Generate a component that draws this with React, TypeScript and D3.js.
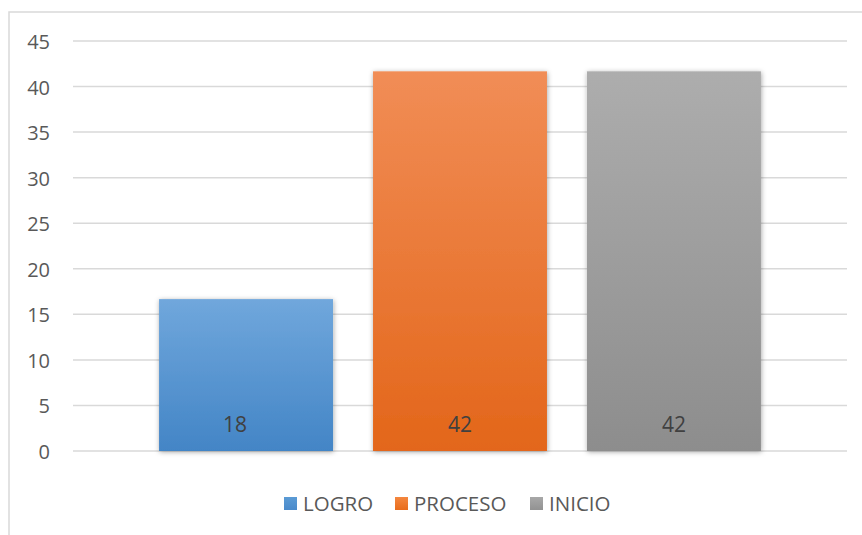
import React from "react";
import * as d3 from "d3";

const series = ["LOGRO", "PROCESO", "INICIO"];
const values = [16.67, 41.67, 41.67];
const labels = ["18", "42", "42"];
const yTicks = [0, 5, 10, 15, 20, 25, 30, 35, 40, 45];

const W = 862;
const H = 535;
const plot = { left: 73, right: 847, top: 41, bottom: 451 };
const gradients = [
  ["#70a7dc", "#4385c6"],
  ["#f18d56", "#e3661a"],
  ["#adadad", "#8d8d8d"],
];
const legendSwatch = [
  ["#5b9bd5", "#4a8acb"],
  ["#f4873f", "#e86c1c"],
  ["#a8a8a8", "#929292"],
];
const labelDx = [-11, 0, 0];
const legendX = [284, 395, 530];
const font = "'Open Sans', 'Noto Sans', sans-serif";

export default function App() {
  const y = d3.scaleLinear().domain([0, 45]).range([plot.bottom, plot.top]);
  const outer = d3.scaleBand().domain(["c"]).range([plot.left, plot.right]).paddingOuter(0.143).paddingInner(0);
  const x = d3
    .scaleBand()
    .domain(series)
    .range([outer("c")!, outer("c")! + outer.bandwidth()])
    .paddingInner(0.187)
    .paddingOuter(0);

  return (
    <svg width={W} height={H} style={{ position: "absolute", left: 0, top: 0, background: "#fff" }}>
      <defs>
        {gradients.map((g, i) => (
          <linearGradient key={i} id={`g${i}`} x1="0" y1="0" x2="0" y2="1">
            <stop offset="0%" stopColor={g[0]} />
            <stop offset="100%" stopColor={g[1]} />
          </linearGradient>
        ))}
        {legendSwatch.map((g, i) => (
          <linearGradient key={i} id={`l${i}`} x1="0" y1="0" x2="0" y2="1">
            <stop offset="0%" stopColor={g[0]} />
            <stop offset="100%" stopColor={g[1]} />
          </linearGradient>
        ))}
        <filter id="sh" x="-10%" y="-10%" width="120%" height="120%">
          <feDropShadow dx="0.5" dy="1" stdDeviation="2.5" floodColor="#000" floodOpacity="0.35" />
        </filter>
      </defs>
      <rect x={9} y={12} width={W} height={H} fill="#fff" stroke="#d9d9d9" strokeWidth={1.5} />
      {yTicks.map((t) => (
        <g key={t}>
          <line x1={plot.left} x2={plot.right} y1={y(t)} y2={y(t)} stroke="#d9d9d9" strokeWidth={1.5} />
          <text x={50} y={y(t) + 8} textAnchor="end" fontFamily={font} fontSize={20} fill="#595959">
            {t}
          </text>
        </g>
      ))}
      {series.map((s, i) => (
        <rect
          key={s}
          x={x(s)}
          y={y(values[i])}
          width={x.bandwidth()}
          height={y(0) - y(values[i])}
          fill={`url(#g${i})`}
          filter="url(#sh)"
        />
      ))}
      {series.map((s, i) => (
        <text
          key={s}
          x={x(s)! + x.bandwidth() / 2 + labelDx[i]}
          y={y(0) - 19}
          textAnchor="middle"
          fontFamily={font}
          fontSize={21}
          fill="#404040"
        >
          {labels[i]}
        </text>
      ))}
      {series.map((s, i) => (
        <g key={s}>
          <rect x={legendX[i]} y={497} width={13} height={13} fill={`url(#l${i})`} />
          <text x={legendX[i] + 19} y={511} fontFamily={font} fontSize={20.5} fill="#595959">
            {s}
          </text>
        </g>
      ))}
    </svg>
  );
}
